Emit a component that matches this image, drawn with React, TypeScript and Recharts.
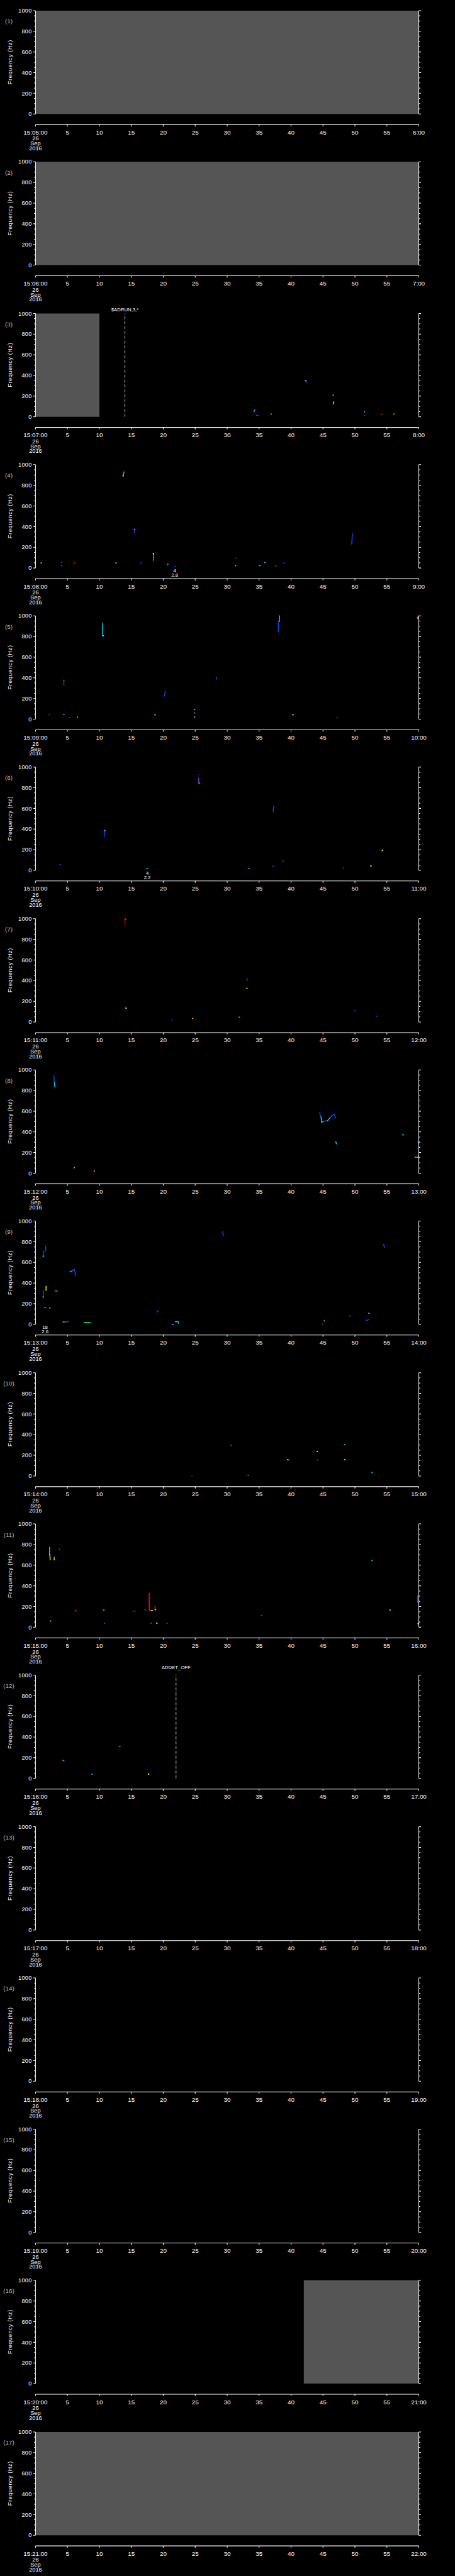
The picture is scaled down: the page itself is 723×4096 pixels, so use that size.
import React from "react";
import { ComposedChart, XAxis, YAxis, Scatter, ReferenceArea, ReferenceLine, ReferenceDot } from "recharts";

// hour axis labels of each of the 17 panels
const HOUR_START = [
  "15:05:00", "15:06:00", "15:07:00", "15:08:00", "15:09:00", "15:10:00", "15:11:00", "15:12:00", "15:13:00",
  "15:14:00", "15:15:00", "15:16:00", "15:17:00", "15:18:00", "15:19:00", "15:20:00", "15:21:00",
];
const HOUR_END = [
  "6:00", "7:00", "8:00", "9:00", "10:00", "11:00", "12:00", "13:00", "14:00",
  "15:00", "16:00", "17:00", "18:00", "19:00", "20:00", "21:00", "22:00",
];
const DATE_LINES = ["26", "Sep", "2016"];
const MINUTE_TICKS = [0, 5, 10, 15, 20, 25, 30, 35, 40, 45, 50, 55, 60];
const FREQ_TICKS = [0, 50, 100, 150, 200, 250, 300, 350, 400, 450, 500, 550, 600, 650, 700, 750, 800, 850, 900, 950, 1000];
const FREQ_LABELED = [0, 200, 400, 600, 800, 1000];

// no-data periods [fromMin, toMin]
const GAP_1 = [[0, 60]];
const GAP_2 = [[0, 60]];
const GAP_3 = [[0, 10]];
const GAP_16 = [[42, 60]];
const GAP_17 = [[0, 60]];

// streaks [t0, f0, t1, f1, colour]
const SEG_3 = [[34.2, 49, 34.35, 66, "C"], [42.2, 350, 42.5, 332, "B"], [46.6, 125, 46.7, 145, "Y"]];
const SEG_4 = [[13.75, 890, 13.85, 930, "C"], [15.45, 343, 15.5, 375, "B"], [18.5, 74, 18.5, 143, "C"], [49.5, 232, 49.6, 332, "B"]];
const SEG_5 = [
  [4.44, 330, 4.44, 377, "B"], [10.5, 925, 10.5, 808, "C"], [20.2, 224, 20.3, 270, "B"], [28.3, 387, 28.35, 406, "B"],
  [38.0, 844, 38.0, 945, "B"], [38.2, 945, 38.2, 1000, "C"], [59.8, 975, 59.9, 1000, "R"],
];
const SEG_6 = [
  [10.84, 327, 10.84, 392, "B"], [17.4, 17, 17.6, 17, "C"], [25.5, 895, 25.5, 855, "B"], [25.6, 855, 25.6, 841, "Y"],
  [37.2, 571, 37.3, 620, "B"], [54.2, 180, 54.3, 195, "B"],
];
const SEG_7 = [[14.0, 940, 14.0, 1000, "D"], [14.1, 133, 14.1, 145, "B"], [33.1, 400, 33.15, 420, "B"]];
const SEG_8 = [
  [2.9, 943, 2.9, 878, "B"], [3.0, 878, 3.0, 840, "C"], [6.0, 50, 6.1, 56, "G"],
  [44.5, 588, 44.6, 545, "B"], [44.7, 545, 44.8, 492, "C"], [44.8, 492, 45.1, 502, "C"], [45.1, 502, 45.7, 507, "B"],
  [45.7, 507, 46.1, 535, "C"], [46.1, 535, 46.4, 557, "B"], [46.4, 557, 46.75, 568, "B"], [46.75, 568, 47.0, 535, "B"],
  [47.0, 306, 47.1, 284, "C"], [59.85, 308, 60, 277, "B"], [59.4, 155, 60, 155, "O"],
];
const SEG_9 = [
  [1.3, 657, 1.3, 710, "B"], [1.6, 710, 1.6, 757, "B"], [1.25, 263, 1.25, 330, "B"], [1.65, 330, 1.65, 367, "Y"],
  [3.1, 323, 3.4, 323, "C"], [5.4, 510, 5.8, 520, "C"], [5.8, 520, 6.0, 531, "B"], [6.1, 531, 6.3, 473, "B"],
  [4.3, 23, 4.6, 23, "O"], [4.6, 25, 5.2, 25, "B"], [7.6, 17, 8.6, 17, "G"], [19.0, 119, 19.2, 133, "B"],
  [21.4, 0, 21.6, 0, "C"], [21.9, 26, 22.3, 26, "C"], [22.3, 26, 22.4, 11, "C"], [29.3, 896, 29.4, 861, "B"],
  [51.8, 37, 52.2, 47, "B"], [54.5, 775, 54.6, 746, "B"],
];
const SEG_11 = [
  [2.2, 772, 2.2, 700, "C"], [2.25, 700, 2.3, 653, "Y"], [2.93, 653, 2.93, 676, "G"], [3.75, 757, 3.8, 749, "B"],
  [6.2, 164, 6.4, 155, "R"], [15.3, 155, 15.6, 155, "B"], [17.8, 327, 17.8, 162, "R"], [18.1, 160, 18.3, 160, "Y"],
  [18.7, 202, 18.7, 170, "R"], [59.8, 306, 59.8, 240, "B"], [59.9, 234, 60, 234, "B"],
];

// single blips [t, f, colour]
const DOT_3 = [[34.6, 14, "B"], [34.8, 14, "B"], [36.9, 27, "C"], [42.3, 350, "O"], [46.6, 210, "O"], [51.5, 49, "C"], [51.5, 14, "B"], [54.2, 24, "R"], [56.1, 27, "O"]];
const DOT_4 = [
  [0.9, 49, "G"], [4.06, 56, "B"], [4.1, 23, "B"], [6.1, 49, "R"], [12.6, 49, "O"], [13.7, 893, "G"], [15.5, 372, "C"],
  [16.5, 49, "B"], [18.45, 140, "Y"], [20.7, 36, "C"], [21.8, 14, "B"], [31.3, 94, "B"], [31.3, 23, "O"], [35.1, 23, "G"],
  [35.9, 53, "C"], [37.6, 19, "R"], [38.9, 49, "B"],
];
const DOT_5 = [
  [2.2, 43, "B"], [4.44, 377, "R"], [4.44, 47, "C"], [5.4, 17, "B"], [6.56, 20, "O"], [10.6, 808, "G"], [18.7, 43, "G"],
  [24.9, 95, "C"], [24.9, 60, "C"], [24.9, 21, "O"], [40.3, 43, "Y"], [47.2, 14, "B"], [59.8, 980, "G"],
];
const DOT_6 = [[3.87, 56, "B"], [10.84, 385, "C"], [25.55, 852, "R"], [33.4, 17, "C"], [37.2, 39, "B"], [38.8, 90, "B"], [48.2, 21, "B"], [52.5, 43, "Y"], [54.3, 195, "Y"]];
const DOT_7 = [[14.1, 998, "G"], [14.2, 133, "G"], [21.4, 21, "B"], [24.6, 34, "O"], [31.9, 47, "C"], [33.1, 326, "G"], [50.0, 108, "B"], [53.4, 56, "B"]];
const DOT_8 = [[9.2, 21, "O"], [57.5, 373, "C"], [57.6, 368, "B"]];
const DOT_9 = [[1.2, 660, "C"], [1.2, 265, "C"], [1.5, 162, "C"], [2.24, 159, "C"], [44.9, 1, "C"], [45.2, 34, "C"], [49.2, 82, "B"], [52.2, 108, "C"]];
const DOT_10 = [[24.5, 1, "B"], [30.6, 297, "B"], [33.3, 1, "C"], [39.5, 158, "Y"], [39.7, 155, "B"], [44.1, 237, "Y"], [44.1, 155, "R"], [48.4, 303, "C"], [48.4, 158, "Y"], [52.7, 34, "C"]];
const DOT_11 = [
  [2.95, 653, "O"], [2.36, 60, "G"], [10.7, 166, "C"], [10.8, 39, "B"], [17.2, 168, "R"], [18.8, 170, "G"], [18.1, 39, "R"],
  [19.0, 39, "Y"], [20.6, 39, "B"], [35.4, 112, "R"], [52.7, 646, "C"], [55.5, 166, "G"], [59.9, 34, "Y"],
];
const DOT_12 = [[4.33, 173, "O"], [4.45, 168, "B"], [8.87, 41, "C"], [13.2, 310, "C"], [17.7, 41, "Y"]];

// event markers [panel, minute, text] and detection notes [panel, minute, line1, line2]
const EVENTS = [[3, 14.0, "$ADRUN,3,*"], [12, 22.0, "ADDET_OFF"]];
const NOTES = [[4, 21.8, "4", "2.8"], [6, 17.5, "4", "2.2"], [9, 1.5, "18", "2.6"]];

const GAPS = { 1: GAP_1, 2: GAP_2, 3: GAP_3, 16: GAP_16, 17: GAP_17 };
const SEGS = { 3: SEG_3, 4: SEG_4, 5: SEG_5, 6: SEG_6, 7: SEG_7, 8: SEG_8, 9: SEG_9, 11: SEG_11 };
const DOTS = { 3: DOT_3, 4: DOT_4, 5: DOT_5, 6: DOT_6, 7: DOT_7, 8: DOT_8, 9: DOT_9, 10: DOT_10, 11: DOT_11, 12: DOT_12 };

const COLORS = { B: "#0050ff", C: "#00d8ff", G: "#50ff70", Y: "#ffff00", O: "#ff9a00", R: "#ff1a00", D: "#d00000" };
const EVENT_DY = { 3: 5, 12: 13 };

const W = 1024;
const H = 5802;
const PITCH = H / 17;
const FONT = '"Liberation Sans", Arial, sans-serif';

function XTick({ x, y, payload, index, panel }: any) {
  const v = payload.value;
  const label = v === 0 ? HOUR_START[panel] : v === 60 ? HOUR_END[panel] : String(v);
  return (
    <g>
      <line x1={x} x2={x} y1={y + 24} y2={y + 28} stroke="#fff" strokeWidth={1.5} />
      <text x={x} y={y + 46} textAnchor="middle" fill="#fff" fontSize={14} fontFamily={FONT}>{label}</text>
      {index === 0 &&
        DATE_LINES.map((d, i) => (
          <text key={d} x={x} y={y + 60 + i * 11} textAnchor="middle" fill="#fff" fontSize={13} fontFamily={FONT}>{d}</text>
        ))}
    </g>
  );
}

function YTickLeft({ x, y, payload }: any) {
  const major = FREQ_LABELED.includes(payload.value);
  return (
    <g>
      <line x1={x - (major ? 5 : 3)} x2={x} y1={y} y2={y} stroke="#fff" strokeWidth={1.5} />
      {major && (
        <text x={x - 8} y={y + 4.5} textAnchor="end" fill="#fff" fontSize={13} fontFamily={FONT} letterSpacing={0.5}>
          {payload.value}
        </text>
      )}
    </g>
  );
}

function YTickRight({ x, y, payload }: any) {
  const major = FREQ_LABELED.includes(payload.value);
  return <line x1={x} x2={x + (major ? 5 : 3)} y1={y} y2={y} stroke="#fff" strokeWidth={1.5} />;
}

function Panel({ n }: { n: number }) {
  const gaps = GAPS[n] || [];
  const segs = SEGS[n] || [];
  const dots = (DOTS[n] || []).map(([t, f, c]) => ({ t, f, c }));
  const events = EVENTS.filter((e) => e[0] === n);
  const notes = NOTES.filter((e) => e[0] === n);

  return (
    <div style={{ position: "absolute", left: 0, top: (n - 1) * PITCH, width: W, height: 341 }}>
      <div style={{ position: "absolute", left: 0, width: 40, top: 40, textAlign: "center", color: "#b8b8b8", fontSize: 14, fontFamily: FONT }}>
        ({n})
      </div>
      <div
        style={{
          position: "absolute", left: 22, top: 140, transform: "translate(-50%, -50%) rotate(-90deg)",
          color: "#fff", fontSize: 13, letterSpacing: 0.8, whiteSpace: "nowrap", fontFamily: FONT,
        }}
      >
        Frequency (Hz)
      </div>
      <ComposedChart width={W} height={341} margin={{ top: 24, right: 70, bottom: 24, left: 40 }} style={{ position: "absolute", left: 0, top: 0 }}>
        <XAxis
          xAxisId="x" type="number" dataKey="t" domain={[0, 60]} ticks={MINUTE_TICKS} interval={0} height={60}
          tickSize={0} tickMargin={0} allowDataOverflow
          axisLine={{ stroke: "#fff", strokeWidth: 1.5, transform: "translate(0, 24)" }}
          tickLine={false} tick={<XTick panel={n - 1} />}
        />
        <YAxis
          yAxisId="l" type="number" dataKey="f" domain={[0, 1000]} ticks={FREQ_TICKS} interval={0} width={40}
          tickSize={0} tickMargin={0} allowDataOverflow axisLine={{ stroke: "#fff", strokeWidth: 1.5 }} tickLine={false} tick={<YTickLeft />}
        />
        <YAxis
          yAxisId="r" orientation="right" type="number" domain={[0, 1000]} ticks={FREQ_TICKS} interval={0} width={10}
          tickSize={0} tickMargin={0} allowDataOverflow axisLine={{ stroke: "#fff", strokeWidth: 1.5 }} tickLine={false} tick={<YTickRight />}
        />
        {gaps.map(([a, b], i) => (
          <ReferenceArea key={"g" + i} xAxisId="x" yAxisId="l" x1={a} x2={b} y1={0} y2={1000} fill="#555555" fillOpacity={1} stroke="none" />
        ))}
        {events.map(([, t, txt]) => (
          <ReferenceLine
            key={"e" + t} xAxisId="x" yAxisId="l" x={t} stroke="#fff" strokeWidth={1.2} strokeDasharray="7 4"
            label={(p: any) => (
              <text x={p.viewBox.x} y={p.viewBox.y - EVENT_DY[n]} textAnchor="middle" fill="#fff" fontSize={11} fontFamily={FONT}>{txt}</text>
            )}
          />
        ))}
        {segs.map(([t0, f0, t1, f1, c], i) => (
          <ReferenceLine
            key={"s" + i} xAxisId="x" yAxisId="l" segment={[{ x: t0, y: f0 }, { x: t1, y: f1 }]}
            stroke={COLORS[c]} strokeWidth={2} strokeLinecap="square"
          />
        ))}
        {notes.map(([, t, a, b]) => (
          <ReferenceDot
            key={"n" + t} xAxisId="x" yAxisId="l" x={t} y={0} r={1} fill="none" stroke="none"
            label={(p: any) => (
              <g>
                <text x={p.viewBox.x + 1} y={p.viewBox.y + 11} textAnchor="middle" fill="#fff" fontSize={11} fontFamily={FONT}>{a}</text>
                <text x={p.viewBox.x + 1} y={p.viewBox.y + 21} textAnchor="middle" fill="#fff" fontSize={11} fontFamily={FONT}>{b}</text>
              </g>
            )}
          />
        ))}
        <Scatter
          xAxisId="x" yAxisId="l" data={dots} isAnimationActive={false}
          shape={(p: any) => <rect x={p.cx - 1.5} y={p.cy - 1.2} width={3} height={2.5} fill={COLORS[p.payload.c]} />}
        />
      </ComposedChart>
    </div>
  );
}

export default function App() {
  const panels = Array.from({ length: 17 }, (_, i) => i + 1);
  return (
    <div style={{ position: "absolute", left: 0, top: 0, width: 723, height: 4096, background: "#000", overflow: "hidden" }}>
      <div style={{ position: "relative", width: W, height: H, transform: "scale(0.705)", transformOrigin: "0 0" }}>
        {panels.map((n) => (
          <Panel key={n} n={n} />
        ))}
      </div>
    </div>
  );
}
